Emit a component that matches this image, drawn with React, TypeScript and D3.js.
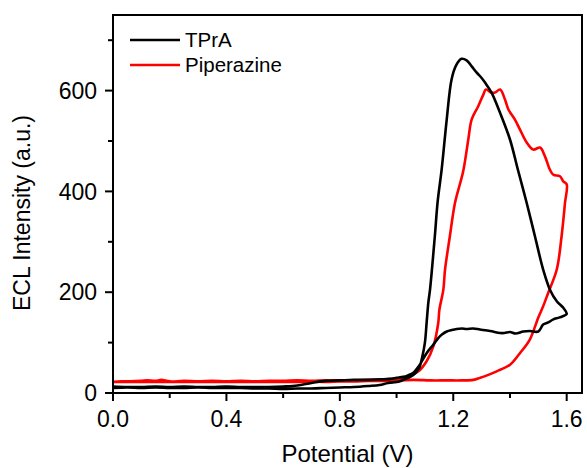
import React from "react";
import * as d3 from "d3";

// TPrA closed CV-ECL loop (forward then reverse)
const tprPotential = [
  0, 0.05, 0.1, 0.15, 0.2, 0.25, 0.3, 0.35, 0.4, 0.45, 0.5, 0.55, 0.6, 0.65, 0.7, 0.75, 0.8, 0.85, 0.9, 0.94, 0.97, 1.01, 1.04, 1.06, 1.08, 1.09, 1.1, 1.106, 1.112, 1.118, 1.135, 1.145, 1.159, 1.177, 1.194, 1.21, 1.229, 1.247, 1.265, 1.282, 1.3, 1.312, 1.335, 1.365, 1.4, 1.428, 1.459, 1.488, 1.517, 1.541, 1.565, 1.588, 1.6,
  1.575, 1.553, 1.535, 1.517, 1.5, 1.47, 1.447, 1.42, 1.4, 1.38, 1.365, 1.33, 1.294, 1.27, 1.247, 1.23, 1.212, 1.195, 1.177, 1.16, 1.147, 1.13, 1.118, 1.106, 1.094, 1.082, 1.07, 1.059, 1.04, 1.024, 1.0, 0.976, 0.95, 0.9, 0.85, 0.8, 0.75, 0.7, 0.65, 0.6, 0.55, 0.5, 0.45, 0.4, 0.35, 0.3, 0.25, 0.2, 0.15, 0.1, 0.05, 0,
];
const tprIntensity = [
  10, 11, 10, 11, 10, 10, 11, 10, 10, 10, 9, 9, 8, 9, 9, 10, 11, 12, 14, 16, 20, 23, 30, 36, 50, 70, 100, 139, 179, 205, 311, 380, 443, 543, 622, 650, 663, 660, 648, 636, 625, 616, 596, 556, 503, 443, 377, 311, 245, 205, 182, 169, 157,
  150, 146, 140, 136, 122, 123, 122, 118, 121, 119, 119, 123, 126, 128, 127, 128, 127, 125, 122, 116, 109, 96, 88, 79, 68, 56, 47, 40, 35, 32, 30, 28, 27, 26, 26, 25, 24, 20, 15, 13, 12, 12, 12, 13, 12, 12, 13, 12, 13, 12, 12, 13,
];

// Piperazine closed CV-ECL loop
const pipPotential = [
  0, 0.03, 0.06, 0.1, 0.12, 0.15, 0.17, 0.2, 0.25, 0.3, 0.35, 0.4, 0.45, 0.5, 0.55, 0.6, 0.65, 0.7, 0.75, 0.8, 0.85, 0.9, 0.95, 0.988, 1.035, 1.077, 1.106, 1.13, 1.147, 1.151, 1.165, 1.171, 1.188, 1.206, 1.235, 1.253, 1.265, 1.288, 1.306, 1.315, 1.335, 1.347, 1.365, 1.382, 1.394, 1.417, 1.435, 1.459, 1.482, 1.506, 1.523, 1.541, 1.553, 1.576, 1.588, 1.6,
  1.594, 1.582, 1.565, 1.535, 1.517, 1.5, 1.47, 1.435, 1.4, 1.353, 1.31, 1.294, 1.271, 1.23, 1.177, 1.12, 1.059, 1.0, 0.95, 0.9, 0.85, 0.8, 0.75, 0.7, 0.65, 0.6, 0.5, 0.4, 0.3, 0.2, 0.1, 0,
];
const pipIntensity = [
  22, 23, 23, 24, 25, 24, 26, 23, 24, 23, 24, 23, 24, 23, 24, 24, 25, 24, 25, 25, 25, 26, 27, 28, 32, 43, 63, 93, 139, 165, 205, 245, 311, 377, 440, 503, 543, 569, 592, 602, 596, 596, 602, 583, 563, 543, 523, 497, 483, 487, 470, 443, 433, 430, 420, 414,
  377, 311, 245, 199, 172, 150, 106, 79, 56, 43, 33, 30, 26, 25, 25, 25, 26, 25, 24, 24, 23, 23, 22, 23, 22, 22, 22, 22, 22, 22, 22, 22,
];

const xMajorTicks = [0, 0.4, 0.8, 1.2, 1.6];
const xMinorTicks = [0.2, 0.6, 1.0, 1.4];
const yMajorTicks = [0, 200, 400, 600];
const yMinorTicks = [100, 300, 500, 700];

const seriesNames = ["TPrA", "Piperazine"];
const seriesColors = ["#000000", "#ff0000"];

const FONT = "'Liberation Sans', Arial, sans-serif";

export default function App() {
  const left = 113, right = 582, top = 15, bottom = 393;
  const x = d3.scaleLinear().domain([0, 1.654]).range([left, right]);
  const y = d3.scaleLinear().domain([0, 750]).range([bottom, top]);

  const series = [
    tprPotential.map((p, i) => [p, tprIntensity[i]] as [number, number]),
    pipPotential.map((p, i) => [p, pipIntensity[i]] as [number, number]),
  ];
  const line = d3
    .line<[number, number]>()
    .x((d) => x(d[0]))
    .y((d) => y(d[1]))
    .curve(d3.curveCatmullRom.alpha(0.5));

  return (
    <svg
      width={587}
      height={468}
      style={{ position: "absolute", left: 0, top: 0, background: "#fff" }}
      fontFamily={FONT}
    >
      <rect x={0} y={0} width={587} height={468} fill="#fff" />
      <defs>
        <clipPath id="plotClip">
          <rect x={left} y={top} width={right - left} height={bottom - top} />
        </clipPath>
      </defs>
      <g clipPath="url(#plotClip)">
        {[1, 0].map((i) => (
          <path
            key={i}
            d={line(series[i]) || ""}
            fill="none"
            stroke={seriesColors[i]}
            strokeWidth={2.6}
            strokeLinejoin="round"
          />
        ))}
      </g>
      <rect
        x={left}
        y={top}
        width={right - left}
        height={bottom - top}
        fill="none"
        stroke="#000"
        strokeWidth={2}
      />
      {/* x ticks */}
      {xMajorTicks.map((t) => (
        <g key={"xM" + t}>
          <line x1={x(t)} x2={x(t)} y1={bottom} y2={bottom + 8} stroke="#000" strokeWidth={2} />
          <text x={x(t)} y={427} textAnchor="middle" fontSize={23}>
            {d3.format(".1f")(t)}
          </text>
        </g>
      ))}
      {xMinorTicks.map((t) => (
        <line key={"xm" + t} x1={x(t)} x2={x(t)} y1={bottom} y2={bottom + 5} stroke="#000" strokeWidth={2} />
      ))}
      {/* y ticks */}
      {yMajorTicks.map((t) => (
        <g key={"yM" + t}>
          <line x1={left - 8} x2={left} y1={y(t)} y2={y(t)} stroke="#000" strokeWidth={2} />
          <text x={97} y={y(t)} dy="0.36em" textAnchor="end" fontSize={23}>
            {t}
          </text>
        </g>
      ))}
      {yMinorTicks.map((t) => (
        <line key={"ym" + t} x1={left - 5} x2={left} y1={y(t)} y2={y(t)} stroke="#000" strokeWidth={2} />
      ))}
      {/* axis titles */}
      <text x={(left + right) / 2} y={462} textAnchor="middle" fontSize={24}>
        Potential (V)
      </text>
      <text transform="translate(30,213) rotate(-90)" textAnchor="middle" fontSize={23}>
        ECL Intensity (a.u.)
      </text>
      {/* legend */}
      {seriesNames.map((n, i) => (
        <g key={n}>
          <line x1={130} x2={180} y1={40 + i * 25} y2={40 + i * 25} stroke={seriesColors[i]} strokeWidth={2.6} />
          <text x={185} y={47 + i * 25} fontSize={20.5}>
            {n}
          </text>
        </g>
      ))}
    </svg>
  );
}
